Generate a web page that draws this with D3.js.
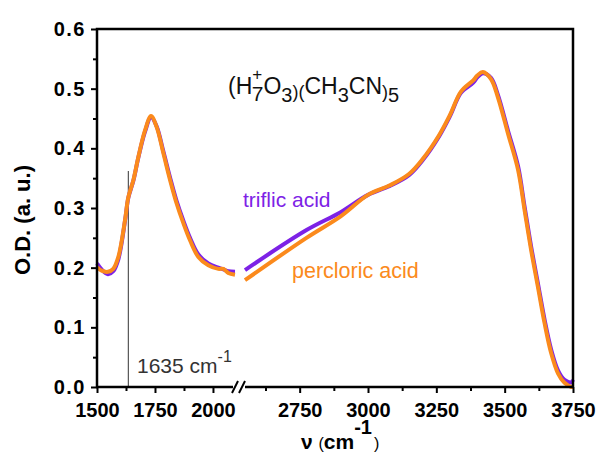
<!DOCTYPE html>
<html>
<head>
<meta charset="utf-8">
<script src="https://cdn.jsdelivr.net/npm/d3@7"></script>
<style>
  html, body { margin: 0; padding: 0; background: #fff; }
  svg { display: block; }
  text { font-family: "Liberation Sans", Arial, sans-serif; }
</style>
</head>
<body>
<svg id="chart" width="601" height="457"></svg>
<script>
// ---------- data ----------
const wnLeft = [1500, 1520, 1547, 1570, 1592, 1621, 1635, 1657, 1678, 1707, 1733, 1757, 1786, 1815, 1843, 1872, 1901, 1937, 1980, 2023, 2045, 2066, 2095];
const triflicLeft = [0.207, 0.197, 0.189, 0.194, 0.214, 0.279, 0.317, 0.346, 0.384, 0.428, 0.452, 0.437, 0.395, 0.351, 0.312, 0.279, 0.250, 0.222, 0.207, 0.200, 0.197, 0.194, 0.193];
const percloricLeft = [0.201, 0.195, 0.193, 0.198, 0.218, 0.280, 0.318, 0.347, 0.385, 0.430, 0.454, 0.436, 0.392, 0.347, 0.308, 0.275, 0.246, 0.218, 0.204, 0.198, 0.198, 0.191, 0.188];

const wnRight = [2550, 2775, 2900, 3000, 3080, 3150, 3200, 3260, 3300, 3340, 3385, 3400, 3420, 3450, 3475, 3512, 3549, 3573, 3597, 3622, 3646, 3670, 3695, 3719, 3744, 3750];
const triflicRight = [0.196, 0.263, 0.293, 0.322, 0.337, 0.355, 0.380, 0.420, 0.454, 0.493, 0.510, 0.519, 0.526, 0.518, 0.490, 0.430, 0.370, 0.302, 0.235, 0.173, 0.113, 0.063, 0.028, 0.012, 0.008, 0.012];
const percloricRight = [0.179, 0.250, 0.286, 0.322, 0.338, 0.357, 0.382, 0.422, 0.456, 0.495, 0.514, 0.522, 0.528, 0.516, 0.486, 0.425, 0.364, 0.296, 0.229, 0.167, 0.107, 0.057, 0.023, 0.007, 0.000, 0.000];

const yTicks = [0.0, 0.1, 0.2, 0.3, 0.4, 0.5, 0.6];
const yMinor = [0.05, 0.15, 0.25, 0.35, 0.45, 0.55];
const xTicksLeft = [1500, 1750, 2000];
const xMinorLeft = [1625, 1875];
const xTicksRight = [2750, 3000, 3250, 3500, 3750];
const xMinorRight = [2625, 2875, 3125, 3375, 3625];
const markerWn = 1635;
const markerTop = 0.362;

// ---------- layout ----------
const svg = d3.select("#chart");
const L = 97, R = 573, T = 29, B = 387;
const xL = d3.scaleLinear().domain([1500, 2095]).range([L, 235]);
const xR = d3.scaleLinear().domain([2550, 3750]).range([245, R]);
const y = d3.scaleLinear().domain([0, 0.6]).range([B, T]);

const purple = "#7d22e6";
const orange = "#fb8a1c";

// vertical marker line
svg.append("line")
  .attr("x1", xL(markerWn)).attr("x2", xL(markerWn))
  .attr("y1", y(markerTop)).attr("y2", y(0))
  .attr("stroke", "#333").attr("stroke-width", 1);

// curves
function drawLine(xs, ys, xs_scale, color) {
  const pts = xs.map((d, i) => [d, ys[i]]);
  const gen = d3.line().x(d => xs_scale(d[0])).y(d => y(d[1])).curve(d3.curveCatmullRom.alpha(0.5));
  svg.append("path").datum(pts)
    .attr("d", gen)
    .attr("fill", "none")
    .attr("stroke", color)
    .attr("stroke-width", 4)
    .attr("stroke-linejoin", "round")
    .attr("stroke-linecap", "butt");
}
drawLine(wnLeft, triflicLeft, xL, purple);
drawLine(wnRight, triflicRight, xR, purple);
drawLine(wnLeft, percloricLeft, xL, orange);
drawLine(wnRight, percloricRight, xR, orange);

// frame (top, right, left) and bottom axis pieces
const frame = svg.append("g").attr("stroke", "#000").attr("stroke-width", 2.5).attr("fill", "none");
frame.append("path").attr("d", `M${L},${B} L${L},${T} L${R},${T} L${R},${B}`);
frame.append("line").attr("x1", L - 1).attr("x2", 233).attr("y1", B).attr("y2", B);
frame.append("line").attr("x1", 245).attr("x2", R + 1).attr("y1", B).attr("y2", B);
// break marks
const brk = svg.append("g").attr("stroke", "#000").attr("stroke-width", 2);
brk.append("line").attr("x1", 232).attr("y1", 393).attr("x2", 238).attr("y2", 381);
brk.append("line").attr("x1", 239).attr("y1", 393).attr("x2", 245).attr("y2", 381);

// axes
function styleAxis(g) {
  g.select(".domain").remove();
  g.selectAll(".tick line").attr("stroke", "#000").attr("stroke-width", 2);
  g.selectAll(".tick text")
    .attr("font-size", 20).attr("font-weight", "bold").attr("fill", "#000")
    .attr("font-family", "'Liberation Sans', Arial, sans-serif");
}
const fmtX = d3.format("d");
svg.append("g").attr("transform", `translate(0,${B})`)
  .call(d3.axisBottom(xL).tickValues(xTicksLeft).tickSize(6).tickPadding(10).tickFormat(fmtX))
  .call(styleAxis);
svg.append("g").attr("transform", `translate(0,${B})`)
  .call(d3.axisBottom(xR).tickValues(xTicksRight).tickSize(6).tickPadding(10).tickFormat(fmtX))
  .call(styleAxis);
svg.append("g").attr("transform", `translate(0,${B})`)
  .call(d3.axisBottom(xL).tickValues(xMinorLeft).tickSize(4).tickFormat(""))
  .call(styleAxis);
svg.append("g").attr("transform", `translate(0,${B})`)
  .call(d3.axisBottom(xR).tickValues(xMinorRight).tickSize(4).tickFormat(""))
  .call(styleAxis);
svg.append("g").attr("transform", `translate(${L},0)`)
  .call(d3.axisLeft(y).tickValues(yTicks).tickSize(6).tickPadding(5).tickFormat(d3.format(".1f")))
  .call(styleAxis)
  .call(g => g.selectAll(".tick text").attr("letter-spacing", 1.5));
svg.append("g").attr("transform", `translate(${L},0)`)
  .call(d3.axisLeft(y).tickValues(yMinor).tickSize(4).tickFormat(""))
  .call(styleAxis);

// axis titles
svg.append("text")
  .attr("transform", `translate(30,${(T + B) / 2 + 12}) rotate(-90)`)
  .attr("text-anchor", "middle")
  .attr("font-size", 22).attr("font-weight", "bold")
  .text("O.D. (a. u.)");

const xt = svg.append("text").attr("x", 301).attr("y", 449).attr("fill", "#000");
xt.append("tspan").attr("font-size", 21).attr("font-weight", "bold").text("ν ");
xt.append("tspan").attr("font-size", 16).text("(");
xt.append("tspan").attr("font-size", 21).attr("font-weight", "bold").text("cm");
xt.append("tspan").attr("font-size", 20).attr("font-weight", "bold").attr("y", 434).text("-1");
xt.append("tspan").attr("font-size", 16).attr("y", 449).attr("dx", 2).text(")");

// formula
const f = svg.append("text").attr("x", 228).attr("y", 94).attr("font-size", 23).attr("fill", "#111");
f.append("tspan").text("(H");
f.append("tspan").attr("font-size", 17).attr("y", 80).attr("dx", 0).text("+");
f.append("tspan").attr("font-size", 21).attr("y", 101).attr("dx", -10.5).text("7");
f.append("tspan").attr("y", 94).text("O");
f.append("tspan").attr("font-size", 20).attr("y", 102).text("3");
f.append("tspan").attr("font-size", 18).attr("y", 98).text(")(");
f.append("tspan").attr("y", 94).text("CH");
f.append("tspan").attr("font-size", 20).attr("y", 102).text("3");
f.append("tspan").attr("y", 94).text("CN");
f.append("tspan").attr("font-size", 18).attr("y", 98).text(")");
f.append("tspan").attr("font-size", 20).attr("y", 102).text("5");

// series labels
svg.append("text").attr("x", 243).attr("y", 207).attr("font-size", 21).attr("fill", purple).text("triflic acid");
svg.append("text").attr("x", 292).attr("y", 278).attr("font-size", 21.5).attr("fill", orange).text("percloric acid");

// marker annotation
const m = svg.append("text").attr("x", 137).attr("y", 373).attr("font-size", 21).attr("fill", "#333");
m.append("tspan").text("1635 cm");
m.append("tspan").attr("font-size", 16).attr("y", 362).text("-1");
</script>
</body>
</html>
